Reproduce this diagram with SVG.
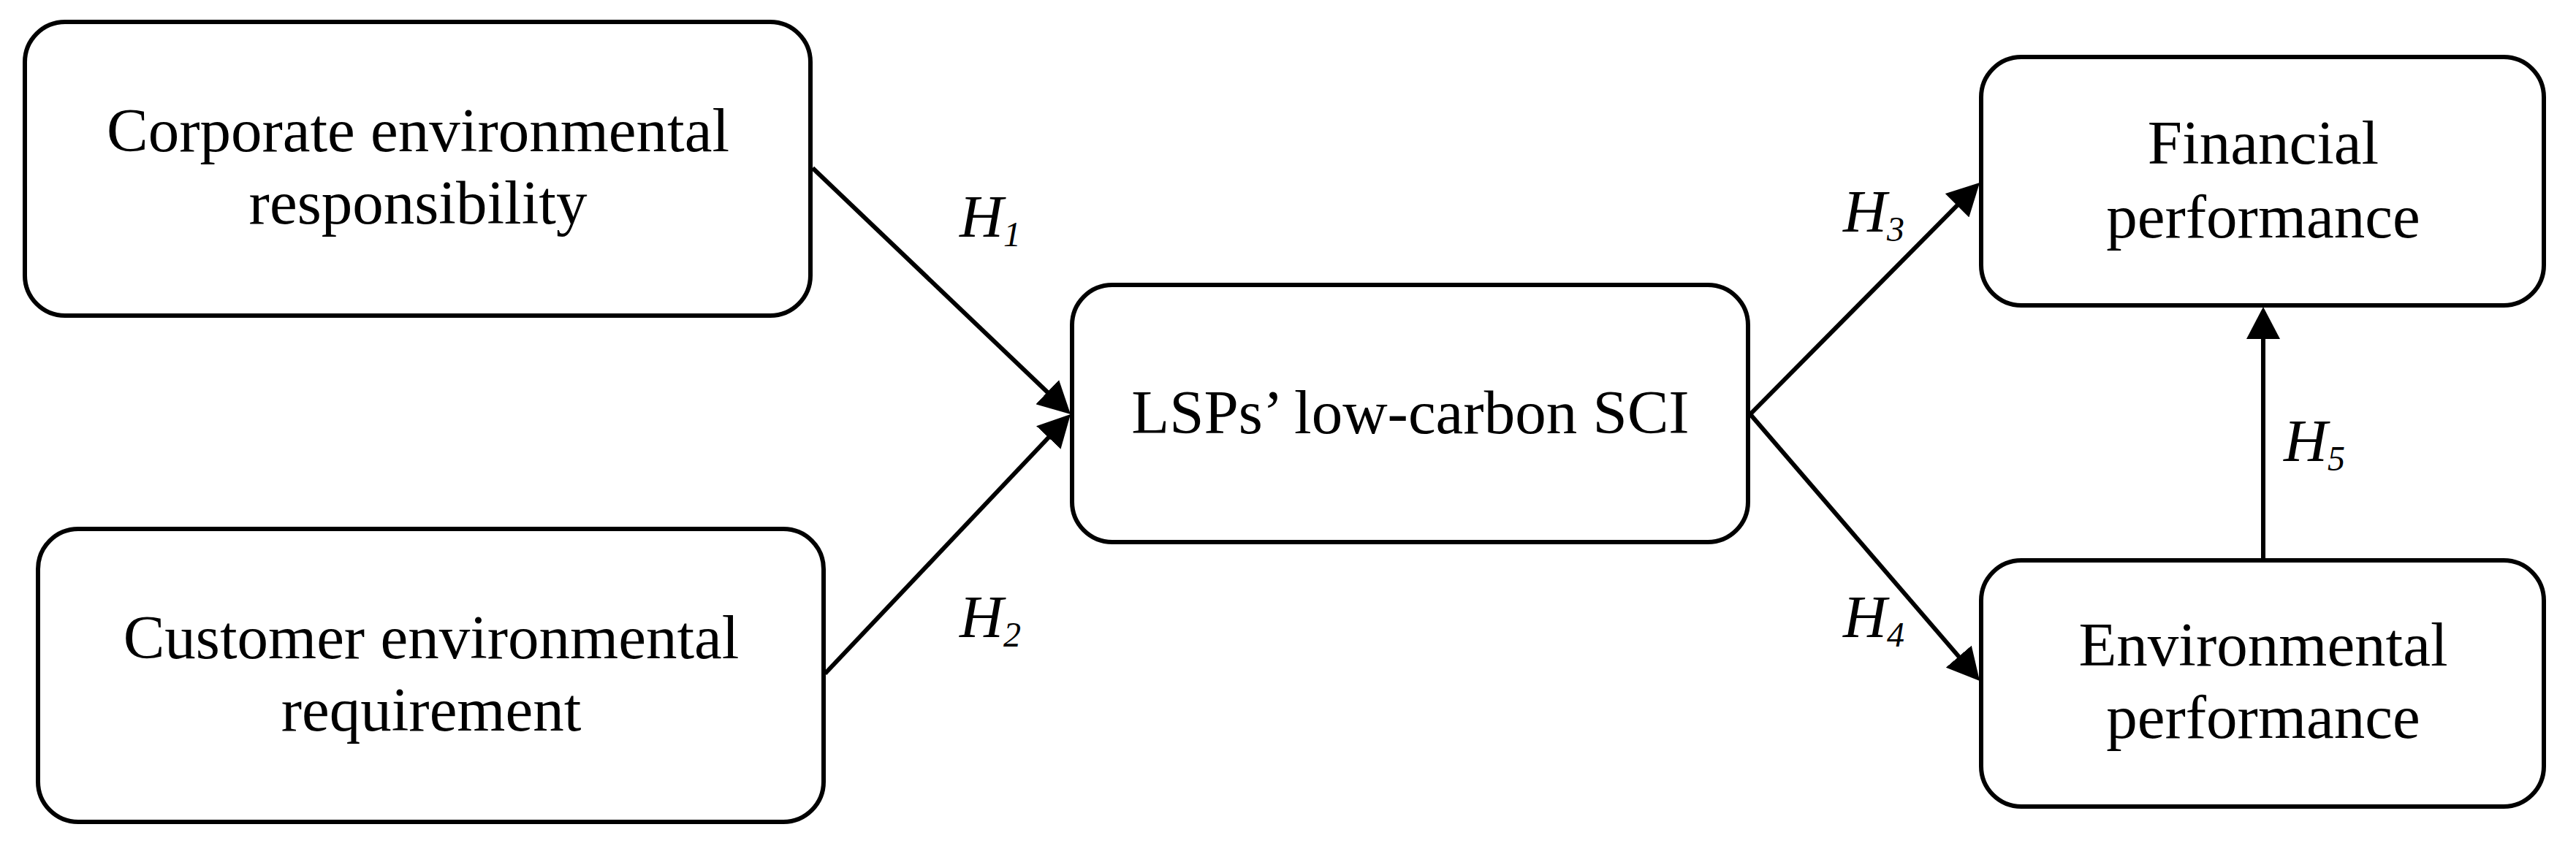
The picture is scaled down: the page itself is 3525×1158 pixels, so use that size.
<svg xmlns="http://www.w3.org/2000/svg" width="3525" height="1158" viewBox="0 0 3525 1158">
<defs>
<style>
.box{fill:#fff;stroke:#000;stroke-width:6}
.lbl{font-family:"Liberation Serif","Times New Roman",serif;font-size:85px;fill:#000;text-anchor:middle}
.h{font-family:"Liberation Serif","Times New Roman",serif;font-size:83px;font-style:italic;fill:#000}
.sub{font-size:48px}
.edge{fill:none;stroke:#000;stroke-width:6;marker-end:url(#ah)}
</style>
<marker id="ah" markerUnits="userSpaceOnUse" markerWidth="44" markerHeight="46" refX="36" refY="23" orient="auto">
<path d="M0,0 L44,23 L0,46 Z" fill="#000"/>
</marker>
</defs>
<rect width="3525" height="1158" fill="#fff"/>
<g id="connectors">
<path class="edge" d="M1112,230 L1459.2,561.5"/>
<path class="edge" d="M1129,922 L1459.5,572.8"/>
<path class="edge" d="M2395,567 L2703.4,255.7"/>
<path class="edge" d="M2395,567 L2703.8,925.9"/>
<path class="edge" d="M3097,766 L3097,428"/>
<text class="h" x="1313" y="324">H<tspan class="sub" dy="13">1</tspan></text>
<text class="h" x="1313" y="872">H<tspan class="sub" dy="13">2</tspan></text>
<text class="h" x="2522" y="317">H<tspan class="sub" dy="13">3</tspan></text>
<text class="h" x="2522" y="872">H<tspan class="sub" dy="13">4</tspan></text>
<text class="h" x="3125" y="631">H<tspan class="sub" dy="13">5</tspan></text>
</g>
<g id="node-cer">
<rect class="box" x="34" y="30" width="1075" height="402" rx="55" ry="55"/>
<text class="lbl" x="572" y="207">Corporate environmental</text>
<text class="lbl" x="572" y="306">responsibility</text>
</g>
<g id="node-cust">
<rect class="box" x="52" y="724" width="1075" height="401" rx="55" ry="55"/>
<text class="lbl" x="590" y="901">Customer environmental</text>
<text class="lbl" x="590" y="1000">requirement</text>
</g>
<g id="node-sci">
<rect class="box" x="1467" y="390" width="925" height="352" rx="55" ry="55"/>
<text class="lbl" x="1930" y="593">LSPs’ low-carbon SCI</text>
</g>
<g id="node-fin">
<rect class="box" x="2711" y="78" width="770" height="340" rx="55" ry="55"/>
<text class="lbl" x="3097" y="224">Financial</text>
<text class="lbl" x="3097" y="325">performance</text>
</g>
<g id="node-env">
<rect class="box" x="2711" y="767" width="770" height="337" rx="55" ry="55"/>
<text class="lbl" x="3097" y="911">Environmental</text>
<text class="lbl" x="3097" y="1010">performance</text>
</g>
</svg>
